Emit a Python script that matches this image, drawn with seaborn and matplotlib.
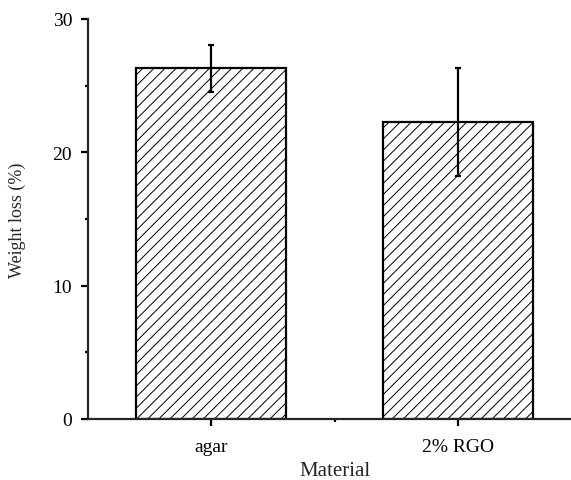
import matplotlib
matplotlib.use("Agg")
import matplotlib.pyplot as plt
from matplotlib.ticker import MultipleLocator, FixedLocator
import seaborn as sns
import pandas as pd

materials = ["agar", "2% RGO"]
weight_loss = [26.3, 22.3]
weight_loss_sd = [1.75, 4.05]

sns.set_style("ticks")
plt.rcParams["font.family"] = ["Liberation Serif", "DejaVu Serif"]
plt.rcParams["hatch.linewidth"] = 0.7

df = pd.DataFrame({"Material": materials, "Weight loss (%)": weight_loss})

fig = plt.figure(figsize=(5.71, 4.81), dpi=100)
ax = fig.add_axes([87.5 / 571, 1 - 420 / 481, 494 / 571, 400 / 481])

sns.barplot(data=df, x="Material", y="Weight loss (%)", ax=ax, width=0.607,
            color="white", edgecolor="black", linewidth=1.6, hatch="///",
            errorbar=None, zorder=2)

ax.errorbar(range(len(materials)), weight_loss, yerr=weight_loss_sd, fmt="none",
            ecolor="black", elinewidth=1.6, capsize=2.4, capthick=1.6, zorder=3)

ax.set_xlim(-0.5, 1.5)
ax.set_ylim(0, 30)
ax.yaxis.set_major_locator(MultipleLocator(10))
ax.yaxis.set_minor_locator(MultipleLocator(5))
ax.xaxis.set_minor_locator(FixedLocator([0.5]))

sns.despine(ax=ax)
for s in ("left", "bottom"):
    ax.spines[s].set_linewidth(1.6)
ax.spines["left"].set_zorder(4)

ax.tick_params(axis="both", which="major", direction="out", length=5, width=1.6,
               labelsize=14, color="black", labelcolor="black")
ax.tick_params(axis="both", which="minor", direction="out", length=2.5, width=1.6,
               color="black")
ax.tick_params(axis="x", which="major", pad=9)
ax.tick_params(axis="y", which="major", pad=6)

ax.set_xlabel("Material", fontsize=15, labelpad=4)
ax.set_ylabel("Weight loss (%)", fontsize=13, labelpad=0)
ax.yaxis.set_label_coords(-0.125, 0.5)

fig.savefig("out.png", dpi=100)
